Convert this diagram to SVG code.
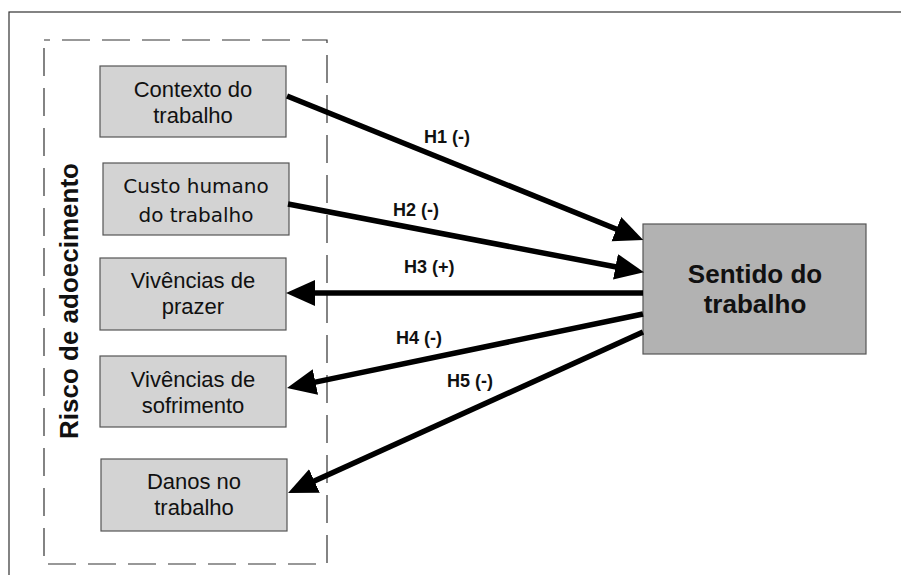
<svg xmlns="http://www.w3.org/2000/svg" width="901" height="575" viewBox="0 0 901 575">
<defs>
<style>
.box{fill:#d3d3d3;stroke:#555;stroke-width:1.2}
.main{fill:#b2b2b2;stroke:#555;stroke-width:1.2}
.t{font-family:"Liberation Sans",Arial,sans-serif;font-size:22px;fill:#111;text-anchor:middle}
.td{font-family:"DejaVu Sans",Verdana,sans-serif;font-size:20px;fill:#111;text-anchor:middle}
.tb{font-family:"Liberation Sans",Arial,sans-serif;font-size:26px;font-weight:bold;fill:#111;text-anchor:middle}
.lbl{font-family:"Liberation Sans",Arial,sans-serif;font-size:18px;font-weight:bold;fill:#111}
.conn{stroke:#000;stroke-width:5.5;fill:none;marker-end:url(#ah)}
</style>
<marker id="ah" markerUnits="userSpaceOnUse" markerWidth="32" markerHeight="28" refX="5" refY="13" orient="auto">
<path d="M0,0 L29,13 L0,26 z" fill="#000"/>
</marker>
</defs>
<rect x="0" y="0" width="901" height="575" fill="#fff"/>
<rect x="9" y="12" width="900" height="600" fill="none" stroke="#333" stroke-width="1.2"/>
<g id="risco">
<rect x="44" y="40" width="283" height="524" fill="none" stroke="#333" stroke-width="1.2" stroke-dasharray="28,12" stroke-dashoffset="22"/>
<text transform="translate(78,301) rotate(-90)" class="tb">Risco de adoecimento</text>
</g>
<g id="contexto">
<rect class="box" x="100" y="66" width="186" height="71"/>
<text class="t" x="193" y="97">Contexto do</text>
<text class="t" x="193" y="123">trabalho</text>
</g>
<g id="custo">
<rect class="box" x="103" y="163" width="186" height="72"/>
<text class="td" x="196" y="193">Custo humano</text>
<text class="td" x="196" y="222">do trabalho</text>
</g>
<g id="prazer">
<rect class="box" x="100" y="258" width="186" height="72"/>
<text class="t" x="193" y="288">Vivências de</text>
<text class="t" x="193" y="314">prazer</text>
</g>
<g id="sofrimento">
<rect class="box" x="100" y="356" width="186" height="71"/>
<text class="t" x="193" y="387">Vivências de</text>
<text class="t" x="193" y="413">sofrimento</text>
</g>
<g id="danos">
<rect class="box" x="101" y="459" width="186" height="72"/>
<text class="t" x="194" y="489">Danos no</text>
<text class="t" x="194" y="515">trabalho</text>
</g>
<g id="sentido">
<rect class="main" x="643" y="224" width="223" height="130"/>
<text class="tb" x="755" y="283">Sentido do</text>
<text class="tb" x="755" y="313">trabalho</text>
</g>
<g id="connectors">
<path class="conn" d="M287,96 L621,231"/>
<path class="conn" d="M288,204 L620.4,267.8"/>
<path class="conn" d="M643,293 L310,293"/>
<path class="conn" d="M643,314 L310.5,383.1"/>
<path class="conn" d="M643,332 L309.9,483.1"/>
<text class="lbl" x="424" y="143">H1 (-)</text>
<text class="lbl" x="393" y="216">H2 (-)</text>
<text class="lbl" x="404" y="273">H3 (+)</text>
<text class="lbl" x="396" y="344">H4 (-)</text>
<text class="lbl" x="447" y="387">H5 (-)</text>
</g>
</svg>
